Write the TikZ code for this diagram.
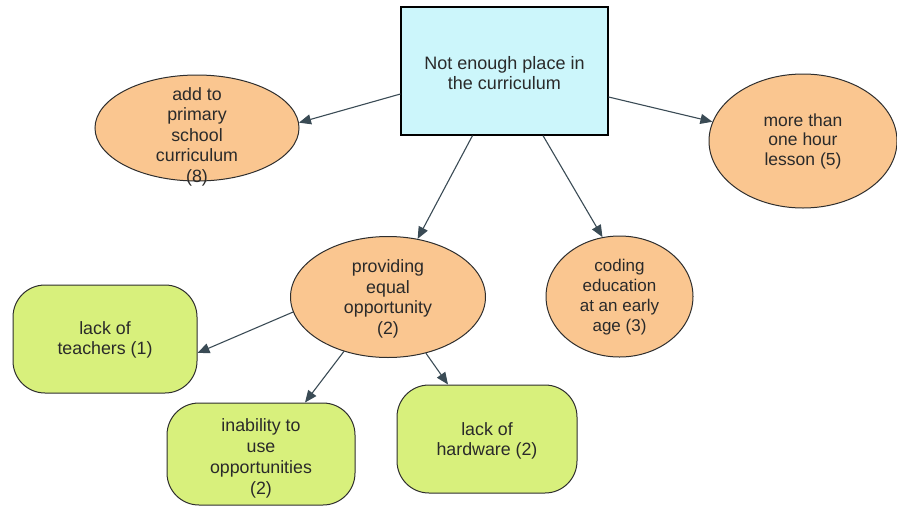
\documentclass[tikz,border=0pt]{standalone}
\usepackage{fontspec}
\setmainfont{Liberation Sans}
\usetikzlibrary{shapes.geometric,arrows.meta}
\definecolor{boxfill}{HTML}{CCF6FB}
\definecolor{orangefill}{HTML}{FAC690}
\definecolor{greenfill}{HTML}{D8F07C}
\definecolor{edge}{HTML}{2E2E2E}
\definecolor{txt}{HTML}{2A2A2A}
\definecolor{arrowc}{HTML}{3A4B55}
\begin{document}
\begin{tikzpicture}[x=1pt,y=-1pt,
  every node/.style={font=\fontsize{17.8}{20.5}\selectfont, text=txt},
  topbox/.style={draw=black, line width=1.2pt, fill=boxfill, minimum width=207pt, minimum height=128pt, inner sep=0pt},
  oval/.style={ellipse, draw=edge, line width=1pt, fill=orangefill, inner sep=0pt},
  greenbox/.style={rounded corners=32pt, draw=edge, line width=1pt, fill=greenfill, inner sep=0pt},
  lbl/.style={align=center, inner sep=0pt},
  conn/.style={draw=arrowc, line width=1.1pt, -{Triangle[length=12pt,width=10pt]}}]
\useasboundingbox (0,0) rectangle (897,512);

% top box
\node[topbox] (box) at (504.5,71) {};
\node[lbl, font=\fontsize{18}{20}\selectfont] (boxt) at (504.5,73) {Not enough place in\\the curriculum};

% orange ellipses
\node[oval, minimum width=204pt, minimum height=106pt] (add) at (197,128) {};
\node[lbl] (addt) at (197,136.5) {add to\\primary\\school\\curriculum\\(8)};

\node[oval, minimum width=188pt, minimum height=134pt] (more) at (803,141) {};
\node[lbl, font=\fontsize{17.5}{19.5}\selectfont] (moret) at (803,141) {more than\\one hour\\lesson (5)};

\node[oval, minimum width=195pt, minimum height=121pt] (prov) at (388,297) {};
\node[lbl] (provt) at (388,299) {providing\\equal\\opportunity\\(2)};

\node[oval, minimum width=147pt, minimum height=121pt] (cod) at (619.5,296.5) {};
\node[lbl, font=\fontsize{17}{20}\selectfont] (codt) at (619.5,297.5) {coding\\education\\at an early\\age (3)};

% green boxes
\node[greenbox, minimum width=184pt, minimum height=108pt] (teach) at (105,339) {};
\node[lbl] (teacht) at (105,340) {lack of\\teachers (1)};

\node[greenbox, minimum width=188pt, minimum height=102pt] (inab) at (261,454) {};
\node[lbl, font=\fontsize{17.8}{21}\selectfont] (inabt) at (261,458.5) {inability to\\use\\opportunities\\(2)};

\node[greenbox, minimum width=180pt, minimum height=108pt] (hard) at (487,439) {};
\node[lbl] (hardt) at (487,441) {lack of\\hardware (2)};

% connectors
\draw[conn] ([yshift=-23pt]box.west) -- (add.3);
\draw[conn] ([yshift=-26pt]box.east) -- (more.168);
\draw[conn] ([xshift=-32pt]box.south) -- (prov.63);
\draw[conn] ([xshift=38.5pt]box.south) -- (cod.106);
\draw[conn] (prov.189.5) -- ([yshift=-14pt]teach.east);
\draw[conn] (prov.231.8) -- ([xshift=44pt]inab.north);
\draw[conn] (prov.304.6) -- ([xshift=-39pt]hard.north);
\end{tikzpicture}
\end{document}
